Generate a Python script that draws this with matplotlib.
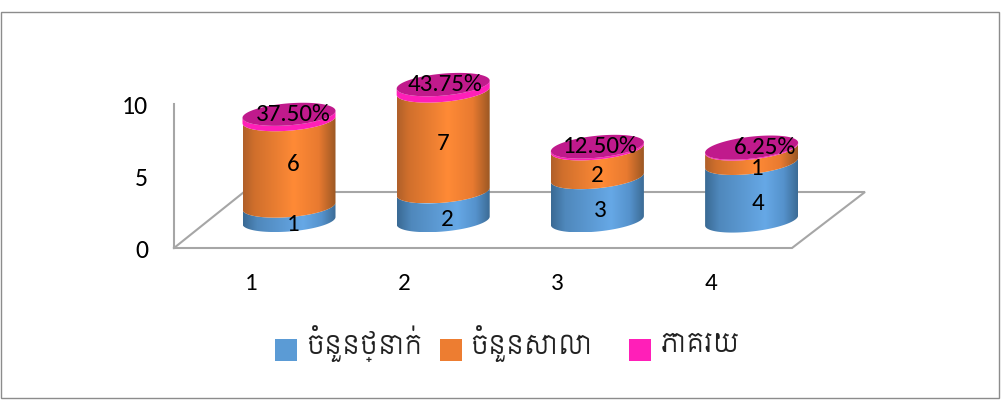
import numpy as np
import matplotlib
matplotlib.use('Agg')
import matplotlib.pyplot as plt
from matplotlib.colors import LinearSegmentedColormap
from matplotlib.patches import PathPatch, Rectangle
from matplotlib.path import Path
from matplotlib.transforms import Affine2D

plt.rcParams['font.family'] = ['Carlito', 'Lato', 'DejaVu Sans']

categories = [1, 2, 3, 4]
y_ticks = [0, 5, 10]
classes = [1, 2, 3, 4]
schools = [6, 7, 2, 1]
percent = [0.375, 0.4375, 0.125, 0.0625]
percent_labels = ['37.50%', '43.75%', '12.50%', '6.25%']
legend_names = ['ចំនួនថ្នាក់', 'ចំនួនសាលា', 'ភាគរយ']

W, H = 1001, 405
X_STEP = 154.2   # px per category
Y_STEP = 14.4    # px per value
X0, Y0 = 289, 220.5  # px of category 1, value 0
RX, RY = 46.5, 11    # cylinder ellipse
TILT = [3.5, 4, 4.5, 5]

GRAY = '#a6a6a6'
BLUE = '#5b9bd5'
ORANGE = '#ed7d31'
PINK = '#ff1fb8'
TOP = '#c01a8c'
KHMER = ['Siemreap', 'Battambang', 'Hanuman', 'Noto Sans Khmer', 'DejaVu Sans']
FONT = 18

blue_cmap = LinearSegmentedColormap.from_list(
    'b', [(0, '#3a6a94'), (0.15, '#4f88bc'), (0.65, '#66a8e6'),
          (0.85, '#5592cc'), (1, '#3c6c96')])
orange_cmap = LinearSegmentedColormap.from_list(
    'o', [(0, '#b0602a'), (0.12, '#d06f2c'), (0.55, '#ff8a36'),
          (0.82, '#e87a30'), (1, '#9c5824')])


def arc(cat, val, tilt, t):
    """ Punto de la elipse en coordenadas de datos """
    x = cat + RX * np.cos(t) / X_STEP
    y = val - (RY * np.sin(t) - tilt * np.cos(t)) / Y_STEP
    return np.column_stack([x, y])


def side_path(cat, low, high, tilt):
    t = np.linspace(0, np.pi, 60)
    verts = np.vstack([arc(cat, low, tilt, t), arc(cat, high, tilt, t[::-1])])
    return Path(np.vstack([verts, verts[0]]), closed=True)


def draw_side(ax, cat, low, high, tilt, cmap):
    path = side_path(cat, low, high, tilt)
    grad = np.linspace(0, 1, 128).reshape(1, -1)
    ymin, ymax = path.vertices[:, 1].min(), path.vertices[:, 1].max()
    im = ax.imshow(grad, cmap=cmap, aspect='auto', zorder=3,
                   extent=(cat - RX / X_STEP, cat + RX / X_STEP, ymin, ymax))
    im.set_clip_path(path, transform=ax.transData)


fig = plt.figure(figsize=(W / 100, H / 100), dpi=100, facecolor='white')
ax = fig.add_axes([0, 0, 1, 1])
ax.axis('off')

# pixeles de la imagen, origen arriba a la izquierda
px = Affine2D().scale(1, -1).translate(0, H)

ax.add_patch(Rectangle((1, 12), 998, 386, fill=False, ec='#8c8c8c', lw=1,
                       transform=px, clip_on=False))

# paredes y piso
ax.plot([174, 174], [104, 248], color=GRAY, lw=1.5, transform=px)
ax.plot([174, 792, 865, 244, 174], [248, 248, 192, 192, 248], color=GRAY,
        lw=1.5, transform=px, solid_joinstyle='miter')

for tick in y_ticks:
    ax.text(148, 250.5 - tick * Y_STEP, str(tick), ha='right', va='center',
            fontsize=FONT + 0.5, color='black', transform=px)
for cat, lx in zip(categories, [251, 404, 557, 711]):
    ax.text(lx, 284, str(cat), ha='center', va='center', fontsize=FONT,
            transform=px)

for i, cat in enumerate(categories):
    a = classes[i]
    b = a + schools[i]
    c = b + percent[i]
    draw_side(ax, cat, 0, a, TILT[i], blue_cmap)
    draw_side(ax, cat, a, b, TILT[i], orange_cmap)
    ax.add_patch(PathPatch(side_path(cat, b, c, TILT[i]), fc=PINK, ec='none',
                           zorder=4))
    t = np.linspace(0, 2 * np.pi, 120)
    ax.fill(*arc(cat, c, TILT[i], t).T, color=TOP, lw=0, zorder=5)

# etiquetas
low_off = [(4, -11), (4, -13), (3, -12), (6, -12)]
mid_off = [(4, -2), (0, -2), (0, -13), (6, -13)]
top_off = [(4, 0), (2, 0), (3, 0), (13, 0)]
for i, cat in enumerate(categories):
    a = classes[i]
    b = a + schools[i]
    c = b + percent[i]
    for text, val, off in [(a, a / 2, low_off[i]),
                           (schools[i], a + schools[i] / 2, mid_off[i]),
                           (percent_labels[i], c, top_off[i])]:
        ax.annotate(str(text), (cat, val), xytext=off,
                    textcoords='offset pixels', ha='center', va='center',
                    fontsize=FONT, color='black', zorder=6)

# leyenda
for name, color, sx, tx in zip(legend_names, [BLUE, ORANGE, PINK],
                               [275, 440, 629], [306, 470, 661]):
    ax.add_patch(Rectangle((sx, 339), 22, 22, fc=color, ec='none', transform=px))
    ax.text(tx, 344, name, ha='left', va='center', fontsize=19, transform=px,
            color='#222222', family=KHMER)

ax.set_xlim(1 - X0 / X_STEP, 1 + (W - X0) / X_STEP)
ax.set_ylim(-(H - Y0) / Y_STEP, Y0 / Y_STEP)

fig.savefig('out.png', dpi=100)
